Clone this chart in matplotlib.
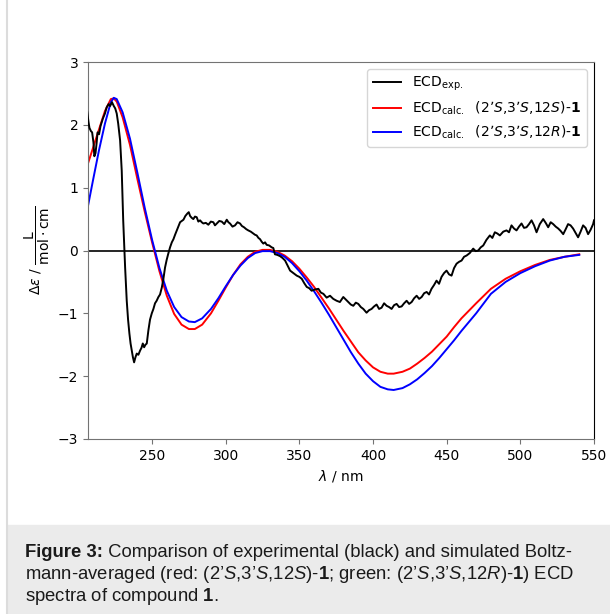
import matplotlib
matplotlib.use("Agg")
import matplotlib.pyplot as plt
from matplotlib.patches import Rectangle
from matplotlib.lines import Line2D

# caption font for "custom" mathtext; chart keeps dejavusans
plt.rcParams["mathtext.rm"] = "Liberation Sans"
plt.rcParams["mathtext.it"] = "Liberation Sans:italic"
plt.rcParams["mathtext.bf"] = "Liberation Sans:bold"

# experimental spectrum
exp_nm = [206.0, 206.8, 207.5, 208.5, 209.3, 210.2, 210.8, 211.6, 212.3, 213.0,
          214.0, 215.0, 216.6, 218.0, 219.2, 220.5, 221.5, 222.8, 224.0, 225.0,
          226.0, 227.0, 228.3, 229.4, 230.4, 231.7, 232.8, 233.7, 234.6, 235.4,
          236.2, 237.0, 237.8, 238.7, 239.6, 240.7, 241.9, 242.8, 243.7, 244.6,
          245.5, 246.4, 247.5, 248.6, 249.8, 250.9, 252.0, 253.1, 254.3, 255.4,
          256.6, 257.7, 258.8, 259.9, 261.0, 262.2, 263.4, 264.5, 265.6, 266.8,
          267.9, 269.0, 270.2, 271.3, 272.6, 274.0, 274.9, 275.8, 276.9, 278.0,
          279.1, 280.3, 281.4, 282.6, 283.7, 284.8, 286.5, 288.2, 289.9, 291.6,
          292.7, 293.9, 295.6, 297.3, 299.0, 300.7, 301.8, 302.9, 304.6, 306.3,
          308.0, 309.7, 311.0, 312.4, 313.9, 315.3, 317.0, 318.7, 319.9, 321.0,
          322.2, 323.3, 324.4, 325.5, 326.7, 327.8, 329.5, 331.2, 332.3, 333.4,
          335.0, 336.9, 338.6, 340.3, 342.0, 343.7, 346.0, 348.2, 350.0, 351.6,
          353.3, 355.0, 356.7, 358.3, 360.6, 362.9, 364.6, 366.3, 368.5, 370.8,
          373.0, 375.3, 377.5, 379.8, 381.5, 383.2, 384.9, 386.6, 388.3, 390.0,
          391.7, 393.4, 395.6, 397.3, 399.0, 400.7, 402.4, 404.1, 405.8, 407.5,
          409.2, 410.9, 412.6, 414.3, 416.0, 417.7, 419.4, 421.1, 422.8, 424.5,
          426.2, 427.9, 429.6, 431.3, 433.0, 434.7, 436.4, 438.0, 439.7, 441.4,
          443.1, 444.8, 446.5, 448.2, 449.9, 451.6, 453.3, 455.0, 456.7, 458.4,
          460.1, 461.8, 463.5, 465.7, 468.0, 469.7, 471.4, 473.1, 474.8, 477.0,
          479.3, 481.0, 482.7, 484.4, 486.1, 488.4, 490.6, 492.3, 494.0, 495.7,
          497.4, 499.1, 500.8, 502.5, 504.2, 505.9, 507.6, 509.3, 511.0, 513.2,
          515.5, 517.2, 518.9, 520.6, 522.3, 524.0, 525.7, 527.4, 529.1, 530.8,
          532.4, 534.1, 535.8, 537.5, 539.2, 540.9, 542.6, 544.3, 546.0, 547.7,
          549.4, 550.0]
exp_de = [2.20, 2.05, 1.95, 1.90, 1.88, 1.72, 1.50, 1.55, 1.70, 1.88,
          1.85, 1.98, 2.10, 2.18, 2.28, 2.33, 2.30, 2.36, 2.30, 2.26,
          2.18, 2.02, 1.75, 1.27, 0.48, -0.27, -0.80, -1.10, -1.32, -1.48,
          -1.59, -1.70, -1.78, -1.70, -1.64, -1.66, -1.59, -1.55, -1.48, -1.54,
          -1.50, -1.48, -1.27, -1.10, -1.00, -0.93, -0.84, -0.80, -0.74, -0.70,
          -0.59, -0.45, -0.27, -0.15, -0.05, 0.05, 0.13, 0.18, 0.25, 0.32,
          0.38, 0.45, 0.47, 0.49, 0.55, 0.59, 0.61, 0.55, 0.52, 0.50,
          0.54, 0.53, 0.46, 0.48, 0.45, 0.43, 0.44, 0.41, 0.46, 0.45,
          0.40, 0.43, 0.47, 0.46, 0.42, 0.49, 0.45, 0.43, 0.38, 0.40,
          0.45, 0.43, 0.39, 0.37, 0.34, 0.32, 0.30, 0.27, 0.25, 0.24,
          0.20, 0.18, 0.14, 0.11, 0.13, 0.09, 0.08, 0.05, 0.04, -0.06,
          -0.07, -0.09, -0.12, -0.16, -0.24, -0.32, -0.36, -0.40, -0.42, -0.45,
          -0.52, -0.58, -0.60, -0.64, -0.62, -0.61, -0.67, -0.69, -0.75, -0.72,
          -0.77, -0.80, -0.82, -0.74, -0.78, -0.82, -0.86, -0.88, -0.83, -0.85,
          -0.90, -0.93, -0.99, -0.95, -0.93, -0.89, -0.86, -0.93, -0.91, -0.84,
          -0.88, -0.90, -0.93, -0.87, -0.85, -0.90, -0.89, -0.84, -0.80, -0.85,
          -0.82, -0.76, -0.72, -0.77, -0.74, -0.68, -0.66, -0.70, -0.61, -0.55,
          -0.48, -0.53, -0.42, -0.36, -0.32, -0.38, -0.40, -0.28, -0.21, -0.18,
          -0.16, -0.10, -0.08, -0.04, 0.03, -0.01, 0.00, 0.05, 0.08, 0.17,
          0.24, 0.20, 0.29, 0.27, 0.24, 0.30, 0.32, 0.29, 0.40, 0.35,
          0.32, 0.38, 0.43, 0.36, 0.37, 0.42, 0.48, 0.40, 0.29, 0.42,
          0.50, 0.44, 0.37, 0.45, 0.42, 0.38, 0.35, 0.31, 0.26, 0.34,
          0.42, 0.40, 0.35, 0.28, 0.21, 0.30, 0.40, 0.36, 0.26, 0.33,
          0.42, 0.48]

# calculated spectra, (2'S,3'S,12S) red and (2'S,3'S,12R) blue
calc_nm = [206, 210, 214, 218, 222, 224, 226, 230, 235, 240,
           245, 250, 255, 260, 265, 270, 275, 279, 284, 290,
           295, 300, 305, 310, 315, 320, 325, 330, 335, 340,
           345, 350, 355, 360, 365, 370, 375, 380, 385, 390,
           395, 400, 405, 410, 414, 420, 425, 430, 435, 440,
           445, 450, 455, 460, 465, 470, 480, 490, 500, 510,
           520, 530, 540]
calc_S = [1.35, 1.64, 1.93, 2.22, 2.41, 2.42, 2.37, 2.12, 1.68, 1.14,
          0.62, 0.13, -0.33, -0.72, -1.01, -1.18, -1.25, -1.25, -1.18, -1.00,
          -0.80, -0.59, -0.39, -0.22, -0.10, -0.02, 0.01, 0.01, -0.02, -0.08,
          -0.17, -0.29, -0.43, -0.58, -0.75, -0.92, -1.10, -1.28, -1.45, -1.62,
          -1.75, -1.86, -1.93, -1.96, -1.96, -1.93, -1.88, -1.80, -1.71, -1.61,
          -1.49, -1.37, -1.22, -1.08, -0.96, -0.84, -0.61, -0.45, -0.33, -0.23,
          -0.15, -0.10, -0.06]
calc_R = [0.65, 1.13, 1.60, 2.02, 2.36, 2.43, 2.41, 2.20, 1.78, 1.24,
          0.68, 0.17, -0.28, -0.64, -0.90, -1.06, -1.13, -1.14, -1.08, -0.93,
          -0.76, -0.57, -0.39, -0.24, -0.12, -0.04, -0.01, -0.01, -0.04, -0.10,
          -0.20, -0.33, -0.48, -0.65, -0.83, -1.02, -1.22, -1.42, -1.62, -1.80,
          -1.96, -2.08, -2.17, -2.21, -2.22, -2.19, -2.13, -2.05, -1.95, -1.84,
          -1.71, -1.57, -1.43, -1.28, -1.14, -1.00, -0.69, -0.50, -0.36, -0.25,
          -0.16, -0.10, -0.07]

W, H = 610, 614
fig = plt.figure(figsize=(W / 100, H / 100), dpi=100)
ax = fig.add_axes([88 / W, 1 - 439 / H, (594 - 88) / W, (439 - 62) / H])

ax.axhline(0, color="k", lw=1.2, zorder=1)
ax.plot(exp_nm, exp_de, color="k", lw=1.4, label=r"ECD$_{\mathrm{exp.}}$", zorder=3)
ax.plot(calc_nm, calc_S, color="#ff0000", lw=1.4,
        label=r"ECD$_{\mathrm{calc.}}$  (2’$S$,3’$S$,12$S$)-$\mathbf{1}$", zorder=2)
ax.plot(calc_nm, calc_R, color="#0000ff", lw=1.4,
        label=r"ECD$_{\mathrm{calc.}}$  (2’$S$,3’$S$,12$R$)-$\mathbf{1}$", zorder=2)

ax.set_xlim(206.5, 550)
ax.set_ylim(-3, 3)
ax.set_xticks([250, 300, 350, 400, 450, 500, 550])
ax.set_yticks([-3, -2, -1, 0, 1, 2, 3])
ax.tick_params(labelsize=10, color="0.45")
for s in ["left", "top", "bottom"]:
    ax.spines[s].set_color("0.45")
ax.spines["right"].set_color("k")
ax.set_xlabel(r"$\lambda$ / nm", fontsize=10)
ax.set_ylabel(r"$\Delta\varepsilon$ / $\dfrac{\mathrm{L}}{\mathrm{mol \cdot cm}}$", fontsize=10)
ax.legend(loc="upper right", fontsize=10)

# page decoration: left rule and caption box
fig.add_artist(Line2D([7 / W, 7 / W], [0, 1], color="#dcdcdc", lw=1.5))
fig.add_artist(Rectangle((7 / W, 0), 1, 89 / H, color="#ebebeb", zorder=0))

cap_size = 13.3
cap_kw = dict(fontsize=cap_size, va="baseline", family="Liberation Sans",
              math_fontfamily="custom", color="#1a1a1a")
base = [557, 579, 601]
r = fig.canvas.get_renderer()
head = fig.text(25 / W, 1 - base[0] / H, "Figure 3:", fontweight="bold", **cap_kw)
x1 = head.get_window_extent(r).x1
fig.text(x1 / W, 1 - base[0] / H, " Comparison of experimental (black) and simulated Boltz-", **cap_kw)
fig.text(25 / W, 1 - base[1] / H,
         r"mann-averaged (red: (2’$S$,3’$S$,12$S$)-$\mathbf{1}$; green: (2’$S$,3’$S$,12$R$)-$\mathbf{1}$) ECD",
         **cap_kw)
fig.text(25 / W, 1 - base[2] / H, r"spectra of compound $\mathbf{1}$.", **cap_kw)

fig.savefig("out.png", dpi=100)
